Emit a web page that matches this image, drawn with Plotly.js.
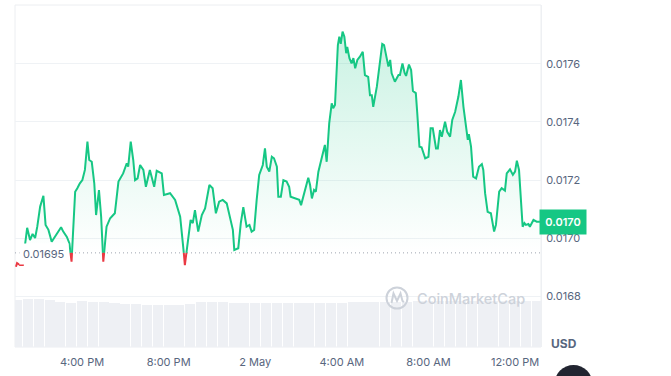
<!DOCTYPE html>
<html>
<head>
<meta charset="utf-8">
<script src="https://cdn.plot.ly/plotly-3.0.1.min.js"></script>
<style>html,body{margin:0;padding:0;background:#fff;}#chart{width:671px;height:376px;}</style>
</head>
<body>
<div id="chart"></div>
<script>
// ---- data ----
const times = [
"2024-05-01 12:57","2024-05-01 13:00","2024-05-01 13:08","2024-05-01 13:16","2024-05-01 13:22","2024-05-01 13:28","2024-05-01 13:36","2024-05-01 13:43","2024-05-01 13:50","2024-05-01 13:56",
"2024-05-01 14:04","2024-05-01 14:13","2024-05-01 14:19","2024-05-01 14:27","2024-05-01 14:36","2024-05-01 14:45","2024-05-01 14:54","2024-05-01 15:02","2024-05-01 15:08","2024-05-01 15:18",
"2024-05-01 15:25","2024-05-01 15:31","2024-05-01 15:38","2024-05-01 15:41","2024-05-01 15:47","2024-05-01 15:54","2024-05-01 16:01","2024-05-01 16:08","2024-05-01 16:15","2024-05-01 16:20",
"2024-05-01 16:27","2024-05-01 16:34","2024-05-01 16:39","2024-05-01 16:47","2024-05-01 16:53","2024-05-01 16:59","2024-05-01 17:08","2024-05-01 17:18","2024-05-01 17:31","2024-05-01 17:41",
"2024-05-01 17:54","2024-05-01 18:04","2024-05-01 18:08","2024-05-01 18:15","2024-05-01 18:22","2024-05-01 18:27","2024-05-01 18:34","2024-05-01 18:41","2024-05-01 18:50","2024-05-01 18:57",
"2024-05-01 19:08","2024-05-01 19:20","2024-05-01 19:27","2024-05-01 19:41","2024-05-01 19:47","2024-05-01 20:04","2024-05-01 20:18","2024-05-01 20:32","2024-05-01 20:39","2024-05-01 20:45",
"2024-05-01 20:55","2024-05-01 21:01","2024-05-01 21:07","2024-05-01 21:13","2024-05-01 21:22","2024-05-01 21:32","2024-05-01 21:41","2024-05-01 21:53","2024-05-01 22:02","2024-05-01 22:11",
"2024-05-01 22:20","2024-05-01 22:30","2024-05-01 22:41","2024-05-01 22:50","2024-05-01 22:58","2024-05-01 23:02","2024-05-01 23:13","2024-05-01 23:20","2024-05-01 23:27","2024-05-01 23:36",
"2024-05-01 23:44","2024-05-01 23:50","2024-05-01 23:57","2024-05-02 00:04","2024-05-02 00:11","2024-05-02 00:21","2024-05-02 00:27","2024-05-02 00:32","2024-05-02 00:39","2024-05-02 00:46",
"2024-05-02 00:52","2024-05-02 01:00","2024-05-02 01:04","2024-05-02 01:11","2024-05-02 01:18","2024-05-02 01:27","2024-05-02 01:34","2024-05-02 01:38","2024-05-02 01:50","2024-05-02 02:02",
"2024-05-02 02:07","2024-05-02 02:13","2024-05-02 02:21","2024-05-02 02:27","2024-05-02 02:32","2024-05-02 02:37","2024-05-02 02:43","2024-05-02 02:48","2024-05-02 02:55","2024-05-02 03:01",
"2024-05-02 03:07","2024-05-02 03:13","2024-05-02 03:18","2024-05-02 03:22","2024-05-02 03:25","2024-05-02 03:32","2024-05-02 03:36","2024-05-02 03:41","2024-05-02 03:44","2024-05-02 03:49",
"2024-05-02 03:53","2024-05-02 03:57","2024-05-02 04:02","2024-05-02 04:07","2024-05-02 04:12","2024-05-02 04:15","2024-05-02 04:21","2024-05-02 04:27","2024-05-02 04:32","2024-05-02 04:37",
"2024-05-02 04:43","2024-05-02 04:50","2024-05-02 04:58","2024-05-02 05:04","2024-05-02 05:13","2024-05-02 05:18","2024-05-02 05:23","2024-05-02 05:27","2024-05-02 05:37","2024-05-02 05:46",
"2024-05-02 05:52","2024-05-02 05:57","2024-05-02 06:02","2024-05-02 06:09","2024-05-02 06:14","2024-05-02 06:18","2024-05-02 06:27","2024-05-02 06:37","2024-05-02 06:41","2024-05-02 06:48",
"2024-05-02 06:54","2024-05-02 06:58","2024-05-02 07:06","2024-05-02 07:12","2024-05-02 07:17","2024-05-02 07:25","2024-05-02 07:29","2024-05-02 07:35","2024-05-02 07:41","2024-05-02 07:51",
"2024-05-02 08:00","2024-05-02 08:06","2024-05-02 08:12","2024-05-02 08:21","2024-05-02 08:26","2024-05-02 08:32","2024-05-02 08:37","2024-05-02 08:46","2024-05-02 08:52","2024-05-02 09:00",
"2024-05-02 09:06","2024-05-02 09:14","2024-05-02 09:23","2024-05-02 09:30","2024-05-02 09:37","2024-05-02 09:44","2024-05-02 09:49","2024-05-02 09:52","2024-05-02 09:58","2024-05-02 10:04",
"2024-05-02 10:12","2024-05-02 10:20","2024-05-02 10:28","2024-05-02 10:32","2024-05-02 10:37","2024-05-02 10:44","2024-05-02 10:53","2024-05-02 11:02","2024-05-02 11:07","2024-05-02 11:16",
"2024-05-02 11:23","2024-05-02 11:32","2024-05-02 11:37","2024-05-02 11:46","2024-05-02 11:54","2024-05-02 12:00","2024-05-02 12:05","2024-05-02 12:11","2024-05-02 12:16","2024-05-02 12:21",
"2024-05-02 12:26","2024-05-02 12:30","2024-05-02 12:37","2024-05-02 12:41","2024-05-02 12:51","2024-05-02 13:00","2024-05-02 13:09"
];
const price = [
0.016902,0.016915,0.016908,0.016908,0.016984,0.017036,0.016994,0.017015,0.017001,0.017040,
0.017109,0.017146,0.017046,0.017029,0.016988,0.017005,0.017023,0.017038,0.017023,0.017005,
0.016983,0.016920,0.017086,0.017160,0.017172,0.017189,0.017200,0.017235,0.017332,0.017269,
0.017263,0.017189,0.017080,0.017166,0.017074,0.016920,0.017040,0.017069,0.017086,0.017195,
0.017223,0.017258,0.017246,0.017332,0.017269,0.017200,0.017206,0.017252,0.017235,0.017177,
0.017235,0.017177,0.017232,0.017223,0.017149,0.017155,0.017132,0.017074,0.016994,0.016908,
0.017005,0.017063,0.017052,0.017097,0.017023,0.017080,0.017103,0.017183,0.017172,0.017086,
0.017126,0.017132,0.017120,0.017074,0.017029,0.016960,0.016966,0.017052,0.017107,0.017040,
0.017046,0.017023,0.017029,0.017132,0.017218,0.017252,0.017309,0.017246,0.017229,0.017280,
0.017275,0.017246,0.017143,0.017143,0.017200,0.017195,0.017177,0.017143,0.017137,0.017132,
0.017114,0.017143,0.017183,0.017208,0.017183,0.017137,0.017166,0.017160,0.017229,0.017258,
0.017286,0.017321,0.017263,0.017361,0.017395,0.017464,0.017447,0.017458,0.017555,0.017664,
0.017693,0.017668,0.017710,0.017693,0.017636,0.017658,0.017619,0.017601,0.017619,0.017584,
0.017613,0.017624,0.017641,0.017561,0.017555,0.017492,0.017492,0.017452,0.017521,0.017601,
0.017668,0.017664,0.017636,0.017590,0.017613,0.017567,0.017538,0.017561,0.017561,0.017601,
0.017568,0.017558,0.017597,0.017578,0.017506,0.017499,0.017430,0.017315,0.017313,0.017275,
0.017280,0.017378,0.017378,0.017309,0.017309,0.017372,0.017349,0.017401,0.017366,0.017349,
0.017407,0.017435,0.017487,0.017544,0.017452,0.017383,0.017338,0.017358,0.017315,0.017212,
0.017206,0.017246,0.017255,0.017235,0.017155,0.017091,0.017086,0.017023,0.017046,0.017160,
0.017172,0.017164,0.017223,0.017237,0.017218,0.017229,0.017267,0.017235,0.017149,0.017040,
0.017052,0.017046,0.017049,0.017040,0.017063,0.017057,0.017057
];
const volTimes = [
"2024-05-01 13:00","2024-05-01 13:30","2024-05-01 14:00","2024-05-01 14:30","2024-05-01 15:00","2024-05-01 15:30","2024-05-01 16:00","2024-05-01 16:30",
"2024-05-01 17:00","2024-05-01 17:30","2024-05-01 18:00","2024-05-01 18:30","2024-05-01 19:00","2024-05-01 19:30","2024-05-01 20:00","2024-05-01 20:30",
"2024-05-01 21:00","2024-05-01 21:30","2024-05-01 22:00","2024-05-01 22:30","2024-05-01 23:00","2024-05-01 23:30","2024-05-02 00:00","2024-05-02 00:30",
"2024-05-02 01:00","2024-05-02 01:30","2024-05-02 02:00","2024-05-02 02:30","2024-05-02 03:00","2024-05-02 03:30","2024-05-02 04:00","2024-05-02 04:30",
"2024-05-02 05:00","2024-05-02 05:30","2024-05-02 06:00","2024-05-02 06:30","2024-05-02 07:00","2024-05-02 07:30","2024-05-02 08:00","2024-05-02 08:30",
"2024-05-02 09:00","2024-05-02 09:30","2024-05-02 10:00","2024-05-02 10:30","2024-05-02 11:00","2024-05-02 11:30","2024-05-02 12:00","2024-05-02 12:30",
"2024-05-02 13:00"
];
const volume = [
34.4,34.8,35.0,34.6,32.6,32.4,33.4,33.2,32.8,32.2,31.4,31.2,31.0,31.0,30.9,30.9,
31.2,32.6,33.0,32.6,32.3,32.3,32.3,32.2,32.3,32.3,32.1,32.2,32.4,32.5,32.4,32.6,
32.8,33.0,33.1,33.2,33.2,33.3,33.6,33.8,33.8,33.9,33.9,33.8,33.8,33.9,33.9,33.8,33.8
];
const baseline = 0.01695;
const baselineLabel = "0.01695";
const currentLabel = "0.0170";
const tickVals = [0.0168, 0.0170, 0.0172, 0.0174, 0.0176];
const tickText = ["0.0168", "0.0170", "0.0172", "0.0174", "0.0176"];
const xTickVals = ["2024-05-01 16:00","2024-05-01 20:00","2024-05-02 00:00","2024-05-02 04:00","2024-05-02 08:00","2024-05-02 12:00"];
const xTickText = ["4:00 PM","8:00 PM","2 May","4:00 AM","8:00 AM","12:00 PM"];

// ---- build ----
function toMs(s){
  const [d,t] = s.split(' ');
  const [Y,M,D] = d.split('-').map(Number);
  const [h,m] = t.split(':').map(Number);
  return Date.UTC(Y, M-1, D, h, m);
}
const tms = times.map(toMs);
const n = price.length;
const gx=[],gy=[],rx=[],ry=[];
for (let i=0;i<n;i++){
  const up = price[i] >= baseline;
  if (up){ gx.push(tms[i]); gy.push(price[i]); rx.push(null); ry.push(null); }
  else   { rx.push(tms[i]); ry.push(price[i]); gx.push(null); gy.push(null); }
  if (i < n-1){
    const up2 = price[i+1] >= baseline;
    if (up !== up2){
      const f = (baseline-price[i])/(price[i+1]-price[i]);
      const tc = tms[i] + f*(tms[i+1]-tms[i]);
      gx.push(tc); gy.push(baseline); rx.push(tc); ry.push(baseline);
    }
  }
}
const GREEN = '#16c784', RED = '#ea3943';

const traces = [
  {x: volTimes, y: volume, type:'bar', yaxis:'y2', marker:{color:'#eef0f4'}, width: 30*60*1000*0.93, hoverinfo:'skip'},
  {x:[tms[0], tms[n-1]], y:[baseline, baseline], mode:'lines', line:{width:0, color:'rgba(0,0,0,0)'}, hoverinfo:'skip'},
  {x: tms, y: price, mode:'lines', line:{width:0, color:'rgba(0,0,0,0)'}, fill:'tonexty',
   fillgradient:{type:'vertical', start: baseline, stop: 0.01775,
     colorscale:[[0,'rgba(22,199,132,0.0)'],[1,'rgba(22,199,132,0.24)']]}, hoverinfo:'skip'},
  {x: gx, y: gy, mode:'lines', line:{color:GREEN, width:2}, connectgaps:false, hoverinfo:'skip'},
  {x: rx, y: ry, mode:'lines', line:{color:RED, width:2}, connectgaps:false, hoverinfo:'skip'}
];

// pixel helpers for decorations (plot area: x 15..541, y 5..347)
const L=15, R=541, T=5, B=347;
const px = x => (x-L)/(R-L);
const py = y => (B-y)/(B-T);

const layout = {
  width:671, height:376,
  margin:{l:L, r:671-R, t:T, b:376-B, pad:0},
  paper_bgcolor:'#ffffff', plot_bgcolor:'#ffffff',
  showlegend:false, hovermode:false,
  font:{family:'Inter, Roboto, sans-serif', size:11, color:'#58667e'},
  bargap:0,
  xaxis:{type:'date', range:['2024-05-01 12:54:18','2024-05-02 13:11:54'],
    tickvals:xTickVals, ticktext:xTickText, showgrid:false, zeroline:false, showline:false,
    ticks:'', ticklabelstandoff:7, tickfont:{size:11, color:'#58667e'}, fixedrange:true},
  yaxis:{side:'right', range:[0.0166265, 0.0178017], tickvals:tickVals, ticktext:tickText,
    showgrid:true, gridcolor:'#eff2f5', gridwidth:1, zeroline:false, showline:true, linecolor:'#eef0f3',
    ticks:'', ticklabelstandoff:2, tickfont:{size:11, color:'#58667e'}, fixedrange:true},
  yaxis2:{overlaying:'y', range:[0,250], visible:false, fixedrange:true},
  shapes:[
    {type:'rect', xref:'paper', yref:'paper', x0:0, x1:1, y0:0, y1:1, line:{color:'#eceef1', width:1}, layer:'below'},
    {type:'line', xref:'paper', yref:'y', x0:0, x1:1, y0:baseline, y1:baseline, line:{color:'#9ea4b0', width:1, dash:'1px,3px'}, layer:'below'},
    {type:'circle', xref:'paper', yref:'paper', x0:px(386.5), x1:px(407.5), y0:py(308.5), y1:py(287.5), line:{color:'#cdd2da', width:2}},
    {type:'path', xref:'paper', yref:'paper',
      path:`M ${px(391.5)} ${py(303)} L ${px(393.5)} ${py(293.5)} L ${px(397)} ${py(301)} L ${px(400.5)} ${py(293.5)} L ${px(402.5)} ${py(301)} L ${px(404)} ${py(302)}`,
      line:{color:'#cdd2da', width:2}},
    {type:'circle', xref:'paper', yref:'paper', x0:px(554.5), x1:px(592.5), y0:py(403), y1:py(365), fillcolor:'#222531', line:{width:0}}
  ],
  annotations:[
    {xref:'paper', yref:'y', x:px(43.5), y:baseline, yshift:-1.5, text:baselineLabel, showarrow:false,
     font:{size:11, color:'#58667e'}, bgcolor:'#ffffff', borderpad:3, xanchor:'center', yanchor:'middle'},
    {xref:'paper', yref:'y', x:px(563), y:price[n-1], text:currentLabel, showarrow:false,
     font:{size:11, color:'#ffffff', weight:600}, bgcolor:GREEN, width:40, height:18, borderpad:3,
     xanchor:'center', yanchor:'middle'},
    {xref:'paper', yref:'paper', x:px(564), y:py(343), text:'USD', showarrow:false,
     font:{size:12, color:'#58667e', weight:700}, xanchor:'center', yanchor:'middle'},
    {xref:'paper', yref:'paper', x:px(470.6), y:py(298), text:'CoinMarketCap', showarrow:false,
     font:{size:14.5, color:'#cdd2da', weight:500}, xanchor:'center', yanchor:'middle'}
  ]
};

Plotly.newPlot('chart', traces, layout, {displayModeBar:false, staticPlot:true});
</script>
</body>
</html>
